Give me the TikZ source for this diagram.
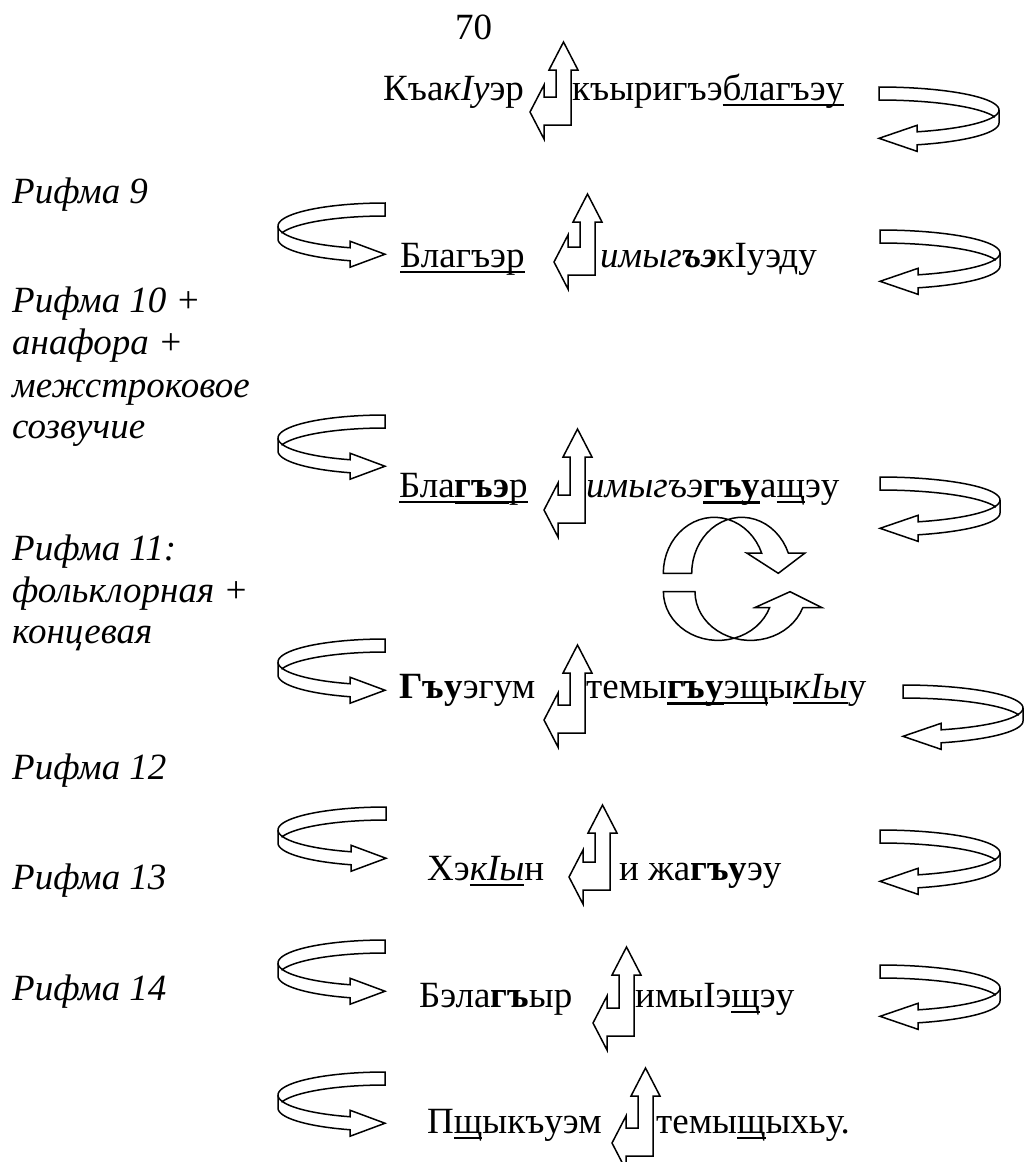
\documentclass[tikz,border=0pt]{standalone}
\usepackage{fontspec}
\setmainfont{Liberation Serif}
\newcommand{\myul}[2][2pt]{\leavevmode\setbox0=\hbox{#2}\rlap{\rule[\dimexpr-4pt-#1\relax]{\wd0}{#1}}\box0}
% left curved ribbon arrow: #1 = x of top end, #2 = y of top, #3 = width
\newcommand{\lcurve}[3]{%
 \pgfmathsetmacro\myR{#1}\pgfmathsetmacro\myT{#2}\pgfmathsetmacro\myW{#3}%
 \pgfmathsetmacro\myc{\myT+23}%
 \pgfmathsetmacro\myta{acos(-35/\myW)}%
 \pgfmathsetmacro\mytb{180-\myta}%
 \pgfmathsetmacro\mym{\myc+6.5+23*sin(\myta)}%
 \draw[shp] plot[domain=0:90,variable=\s] ({\myR+\myW*cos(270-\s)},{\myc+23*sin(270-\s)})
   -- ({\myR-\myW},{\myc+13})
   -- plot[domain=0:\mytb,variable=\s] ({\myR+\myW*cos(180-\s)},{\myc+13+23*sin(180-\s)})
   -- ({\myR-35},{\mym+13}) -- ({\myR},{\mym}) -- ({\myR-35},{\mym-13})
   -- plot[domain=\myta:163.6,variable=\s] ({\myR+\myW*cos(\s)},{\myc+23*sin(\s)})
   -- plot[domain=196.4:270,variable=\s] ({\myR+\myW*cos(\s)},{\myc+13+23*sin(\s)})
   -- cycle;
 \draw[shpline] plot[domain=163.6:180,variable=\s] ({\myR+\myW*cos(\s)},{\myc+23*sin(\s)});
}
% right curved ribbon arrow (mirror): #1 = x of top end (left), #2 = top y, #3 = width
\newcommand{\rcurve}[3]{%
 \pgfmathsetmacro\myR{#1}\pgfmathsetmacro\myT{#2}\pgfmathsetmacro\myW{#3}%
 \pgfmathsetmacro\myc{\myT+23}%
 \pgfmathsetmacro\myta{acos(-38/\myW)}%
 \pgfmathsetmacro\mytb{180-\myta}%
 \pgfmathsetmacro\mym{\myc+6.5+23*sin(\myta)}%
 \draw[shp] plot[domain=0:90,variable=\s] ({\myR-\myW*cos(270-\s)},{\myc+23*sin(270-\s)})
   -- ({\myR+\myW},{\myc+13})
   -- plot[domain=0:\mytb,variable=\s] ({\myR-\myW*cos(180-\s)},{\myc+13+23*sin(180-\s)})
   -- ({\myR+38},{\mym+13}) -- ({\myR},{\mym}) -- ({\myR+38},{\mym-13})
   -- plot[domain=\myta:163.6,variable=\s] ({\myR-\myW*cos(\s)},{\myc+23*sin(\s)})
   -- plot[domain=196.4:270,variable=\s] ({\myR-\myW*cos(\s)},{\myc+13+23*sin(\s)})
   -- cycle;
 \draw[shpline] plot[domain=163.6:180,variable=\s] ({\myR-\myW*cos(\s)},{\myc+23*sin(\s)});
}
% left-up corner arrow: #1,#2 inner corner, #3 head base distance above corner
\newcommand{\cornerarrow}[3]{%
 \begin{scope}[shift={(#1,#2)}]
 \draw[shp] (7.5,{-#3-28}) -- (22,-#3) -- (15,-#3) -- (15,28) -- (-12,28) -- (-12,42)
   -- (-26,15) -- (-12,-12) -- (-12,0) -- (0,0) -- (0,-#3) -- (-7,-#3) -- cycle;
 \end{scope}}
\begin{document}
\begin{tikzpicture}[x=1pt,y=-1pt,
  shp/.style={draw=black,line width=1.5pt,fill=white,line join=miter},
  shpline/.style={draw=black,line width=1.5pt},
  txt/.style={inner sep=0pt,anchor=base west,font=\fontsize{37}{44}\selectfont},
  lab/.style={inner sep=0pt,anchor=base west,font=\fontsize{37}{44}\selectfont\itshape}]
\useasboundingbox[fill=white] (0,0) rectangle (1024,1162);

% corner arrows
\cornerarrow{556}{97}{27}
\cornerarrow{580}{247}{25}
\cornerarrow{570}{495}{38}
\cornerarrow{570}{705}{32}
\cornerarrow{595}{862}{29}
\cornerarrow{619}{1008}{33}
\cornerarrow{638}{1128}{32}

% left curved arrows
\lcurve{385}{203}{107}
\lcurve{385}{415}{107}
\lcurve{385}{639}{107}
\lcurve{386}{807}{108}
\lcurve{385}{940}{107}
\lcurve{385}{1072}{107}

% right curved arrows
\rcurve{879}{87}{120}
\rcurve{880}{230}{120}
\rcurve{880}{477}{120}
\rcurve{903}{685}{120}
\rcurve{880}{830}{120}
\rcurve{880}{965}{120}

% circular arrows
\draw[shp] plot[domain=180:339,variable=\s] ({714.2+50.9*cos(\s)},{573.3+56*sin(\s)})
  -- (746.7,553) -- (778.3,573.3) -- (805,553) -- (788.3,553)
  -- plot[domain=0:158.5,variable=\s] ({741.7+50*cos(338.5-\s)},{573.3+56*sin(338.5-\s)}) -- cycle;
\draw[shp] plot[domain=0:161,variable=\s] ({718+54.6*cos(180-\s)},{591.7+48.7*sin(180-\s)})
  -- (755,607.5) -- (790,591.7) -- (821.7,607.5) -- (803.3,607.5)
  -- plot[domain=19.5:180,variable=\s] ({750.4+55.4*cos(\s)},{591.7+48.7*sin(\s)}) -- cycle;

% page number
\node[txt] (pnum) at (455,39) {70};

% left labels
\node[lab] (l9) at (12,203) {Рифма 9};
\node[lab] (l10a) at (12,312) {Рифма 10 +};
\node[lab] (l10b) at (12,354) {анафора +};
\node[lab] (l10c) at (12,397) {межстроковое};
\node[lab] (l10d) at (12,438) {созвучие};
\node[lab] (l11a) at (12,560) {Рифма 11:};
\node[lab] (l11b) at (12,602) {фольклорная +};
\node[lab] (l11c) at (12,643) {концевая};
\node[lab] (l12) at (12,779) {Рифма 12};
\node[lab] (l13) at (12,889) {Рифма 13};
\node[lab] (l14) at (12,1000) {Рифма 14};

% rows
\node[txt] (r1a) at (383,100) {Къа\textit{кIу}эр};
\node[txt] (r1b) at (572,100) {къыригъэ\myul{благъэу}};
\node[txt] (r2a) at (400,267) {\myul{Благъэр}};
\node[txt] (r2b) at (600,267) {\textit{имыг\textbf{ъэ}}кIуэду};
\node[txt] (r3a) at (399,497) {\myul{Бла}\myul[3pt]{\textbf{гъэ}}\myul{р}};
\node[txt] (r3b) at (586,497) {\textit{имыгъэ}\myul[3pt]{\textbf{гъу}}а\myul{щ}эу};
\node[txt] (r4a) at (399,698) {\textbf{Гъу}эгум};
\node[txt] (r4b) at (586,698) {темы\myul[3pt]{\textbf{гъу}}\myul{эщ}ы\myul{\textit{кIы}}у};
\node[txt] (r5a) at (427,880) {Хэ\myul{\textit{кIы}}н};
\node[txt] (r5b) at (619,880) {и жа\textbf{гъу}эу};
\node[txt] (r6a) at (419,1007) {Бэла\textbf{гъ}ыр};
\node[txt] (r6b) at (635,1007) {имыIэ\myul{щ}эу};
\node[txt] (r7a) at (427,1133) {П\myul{щ}ыкъуэм};
\node[txt] (r7b) at (656,1133) {темы\myul{щ}ыхьу.};
\end{tikzpicture}
\end{document}
